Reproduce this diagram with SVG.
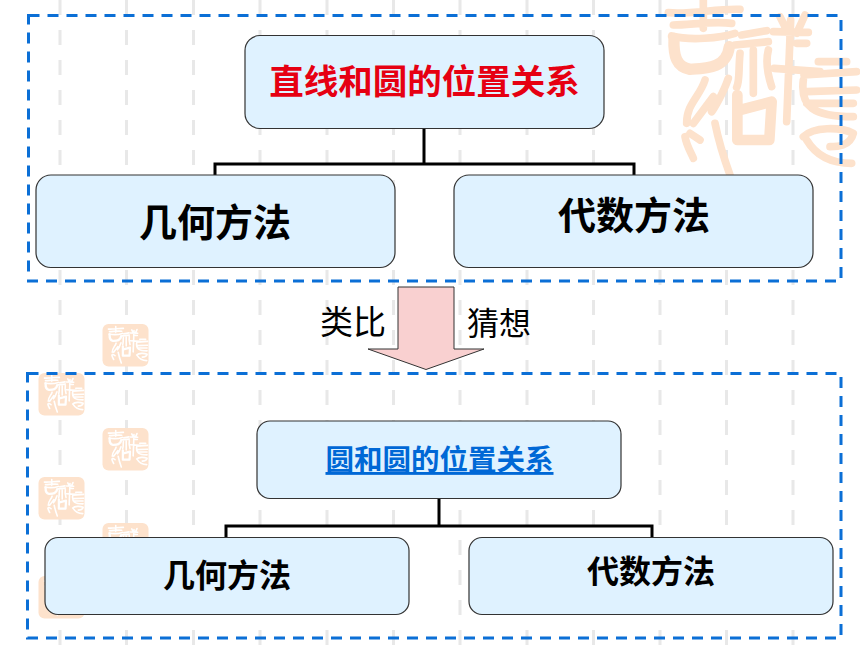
<svg xmlns="http://www.w3.org/2000/svg" xmlns:xlink="http://www.w3.org/1999/xlink" width="860" height="645" viewBox="0 0 860 645">
<style>
.grid{stroke:#e8e8e8;stroke-width:3;stroke-dasharray:15 15;fill:none}
.frame{fill:none;stroke:#0b6fd6;stroke-width:3;stroke-dasharray:11 8}
.box{fill:#dff2ff;stroke:#333;stroke-width:1.2}
.conn{fill:none;stroke:#000;stroke-width:3}
text{font-family:"Noto Sans CJK SC","Liberation Sans",sans-serif;text-anchor:middle}
.b{font-weight:700;fill:#000}
.brush{fill:none;stroke-linecap:round;stroke-linejoin:round}
</style>
<defs>
<symbol id="seal" viewBox="0 0 660 540" overflow="hidden">
<g class="brush" stroke-width="23">
<path d="M190 0V85M85 38C150 45 230 25 300 28M100 75C150 75 220 62 275 70M95 108C150 122 240 115 285 100"/>
<path stroke-width="34" d="M102 115C100 170 110 200 150 208C200 205 260 205 268 140"/>
<path d="M305 105L380 92M285 135L385 125M300 160C295 210 300 240 290 262M340 150V280M385 150C375 190 385 230 395 260"/>
<path d="M420 50L445 100M495 45L470 100M400 95L505 97M470 130L500 130M402 205L540 215M452 60L440 365"/>
<path d="M535 185L620 185M492 225L650 215M490 240C480 320 520 350 640 350M500 275L650 270M500 310L640 310M490 410C520 380 600 380 640 400C630 440 590 440 570 440M500 420C530 470 580 490 635 490"/>
<path d="M195 240C180 290 140 310 140 370M265 235C250 280 220 330 215 335M160 370L220 290M135 410C140 440 155 460 160 475M150 400L180 420M225 370C235 420 250 470 270 525"/>
<path stroke-width="32" d="M292 285V420H388L395 305L300 330"/>
</g>
</symbol>
<g id="stamp">
<rect width="46" height="42.500" rx="6" fill="#fde2cc"/>
<use xlink:href="#seal" href="#seal" x="0" y="0" width="46" height="42.500" stroke="#fff"/>
</g>
</defs>
<rect width="860" height="645" fill="#fff"/>
<g id="background">
<path class="grid" d="M60 0V645M126.500 0V645M193.500 0V645M260 0V645M327 0V645M393.500 0V645M460 0V645M527 0V645M593.500 0V645M660 0V645M726.500 0V645M793 0V645"/>
<use xlink:href="#seal" href="#seal" x="640" y="0" width="220" height="180" stroke="#fde2cc"/>
<use xlink:href="#stamp" href="#stamp" x="102.500" y="324"/>
<use xlink:href="#stamp" href="#stamp" x="38.500" y="373"/>
<use xlink:href="#stamp" href="#stamp" x="102.500" y="428"/>
<use xlink:href="#stamp" href="#stamp" x="38.500" y="477"/>
<use xlink:href="#stamp" href="#stamp" x="102.500" y="523"/>
<use xlink:href="#stamp" href="#stamp" x="38.500" y="576"/>
</g>
<rect id="frame-top" class="frame" x="28.500" y="15.500" width="812.500" height="265.500"/>
<rect id="frame-bottom" class="frame" x="27.500" y="373.500" width="813.500" height="264.500"/>
<g id="connectors">
<path class="conn" d="M424 128V164M215 175V164H634V175"/>
<path class="conn" d="M439 498V526M226 537V526H652V537"/>
</g>
<g id="arrow">
<path d="M398 287H454V349H484L426 369.500L368 349H398Z" fill="#f9d0d0" stroke="#333" stroke-width="1"/>
<text x="353" y="334" font-size="33" fill="#000">类比</text>
<text x="499" y="335" font-size="32" fill="#000">猜想</text>
</g>
<g id="n-top">
<rect class="box" x="245" y="35.500" width="359" height="93" rx="15"/>
<text x="424.500" y="94" font-size="34.500" font-weight="700" fill="#e60012">直线和圆的位置关系</text>
</g>
<g id="n-geo">
<rect class="box" x="36" y="175" width="359" height="92.500" rx="15"/>
<text class="b" x="215" y="236" font-size="38">几何方法</text>
</g>
<g id="n-alg">
<rect class="box" x="454" y="175" width="359" height="92.500" rx="15"/>
<text class="b" x="634" y="229" font-size="38">代数方法</text>
</g>
<g id="n-circle">
<rect class="box" x="257" y="421" width="364" height="77.500" rx="13"/>
<text x="439.500" y="470" font-size="28.500" font-weight="700" fill="#0068d6" text-decoration="underline">圆和圆的位置关系</text>
</g>
<g id="n-geo2">
<rect class="box" x="45" y="537.500" width="364" height="77" rx="13"/>
<text class="b" x="227" y="587" font-size="32">几何方法</text>
</g>
<g id="n-alg2">
<rect class="box" x="469" y="537.500" width="364" height="77" rx="13"/>
<text class="b" x="651" y="583" font-size="32">代数方法</text>
</g>
</svg>
